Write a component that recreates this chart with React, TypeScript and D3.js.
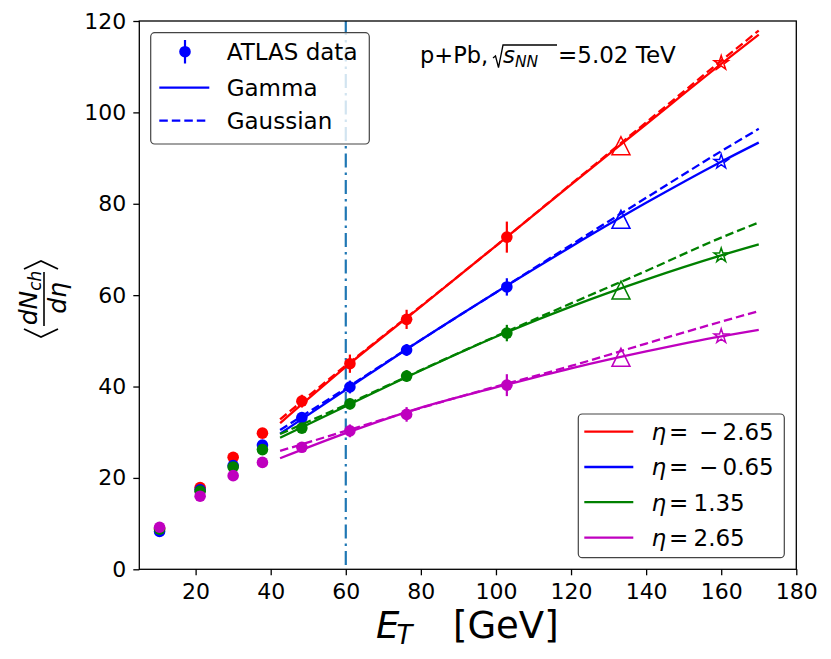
import * as d3 from "d3";
import { useEffect, useRef } from "react";

// measured E_T bins (GeV)
const etValues = [10.4, 21.2, 30.0, 37.8, 48.3, 61.1, 76.2, 102.9];

const dataEtaM265 = [8.9, 17.9, 24.5, 29.8, 36.8, 45.0, 54.7, 72.7];
const errEtaM265 = [0.4, 0.6, 0.8, 1.0, 1.4, 2.0, 2.1, 3.4];
const dataEtaM065 = [8.3, 17.4, 22.7, 27.2, 33.2, 39.9, 48.0, 61.8];
const errEtaM065 = [0.3, 0.5, 0.7, 0.9, 1.1, 1.4, 1.3, 1.9];
const dataEta135 = [8.8, 17.1, 22.4, 26.2, 30.9, 36.2, 42.3, 51.7];
const errEta135 = [0.3, 0.5, 0.7, 0.8, 1.0, 1.2, 1.3, 1.8];
const dataEta265 = [9.2, 16.0, 20.5, 23.4, 26.7, 30.3, 33.9, 40.3];
const errEta265 = [0.3, 0.5, 0.6, 0.7, 0.9, 1.4, 1.6, 2.4];

// model curves
const fitEt = [42.5, 60, 80, 100, 120, 140, 160, 170];
const gammaEtaM265 = [32.0, 44.3, 57.5, 70.8, 84.2, 97.4, 110.6, 117.0];
const gaussEtaM265 = [32.8, 44.6, 57.6, 70.8, 84.3, 97.8, 111.3, 117.9];
const gammaEtaM065 = [29.7, 39.3, 50.2, 60.6, 70.6, 80.2, 89.2, 93.4];
const gaussEtaM065 = [30.5, 39.6, 50.2, 60.6, 71.0, 81.3, 91.5, 96.4];
const gammaEta135 = [28.8, 35.7, 43.5, 50.9, 57.5, 63.4, 68.7, 71.1];
const gaussEta135 = [29.6, 36.0, 43.6, 51.0, 58.2, 65.3, 72.6, 75.9];
const gammaEta265 = [24.3, 29.8, 35.4, 39.8, 44.0, 47.7, 51.0, 52.4];
const gaussEta265 = [25.9, 30.3, 35.3, 40.0, 44.5, 49.4, 54.2, 56.5];

// predictions at higher E_T
const triangleEt = 133.3;
const triangleVals = [92.7, 76.6, 61.1, 46.4];
const starEt = 160;
const starVals = [110.8, 89.2, 68.7, 51.0];

const etaLabels = ["−2.65", "−0.65", "1.35", "2.65"];
const colors = ["#ff0000", "#0000ff", "#008000", "#bf00bf"];
const xTicks = [20, 40, 60, 80, 100, 120, 140, 160, 180];
const yTicks = [0, 20, 40, 60, 80, 100, 120];

const series = [
  { data: dataEtaM265, err: errEtaM265, gamma: gammaEtaM265, gauss: gaussEtaM265 },
  { data: dataEtaM065, err: errEtaM065, gamma: gammaEtaM065, gauss: gaussEtaM065 },
  { data: dataEta135, err: errEta135, gamma: gammaEta135, gauss: gaussEta135 },
  { data: dataEta265, err: errEta265, gamma: gammaEta265, gauss: gaussEta265 },
];

const FONT = "DejaVu Sans, sans-serif";

function starPath(R: number) {
  const r = R * 0.381966;
  const pts: string[] = [];
  for (let i = 0; i < 10; i++) {
    const a = (Math.PI / 5) * i - Math.PI / 2;
    const rr = i % 2 === 0 ? R : r;
    pts.push(`${(rr * Math.cos(a)).toFixed(2)},${(rr * Math.sin(a)).toFixed(2)}`);
  }
  return "M" + pts.join("L") + "Z";
}

const App = () => {
  const ref = useRef<SVGSVGElement | null>(null);

  useEffect(() => {
    const svg = d3.select(ref.current);
    svg.selectAll("*").remove();

    const width = 831;
    const height = 659;
    svg.attr("width", width).attr("height", height);

    const left = 139.3;
    const right = 796.3;
    const top = 21;
    const bottom = 569.3;

    const x = d3.scaleLinear().domain([5, 180]).range([left, right]);
    const y = d3.scaleLinear().domain([0, 120]).range([bottom, top]);

    svg.append("rect").attr("width", width).attr("height", height).attr("fill", "white");

    // vertical reference line at 60 GeV
    svg
      .append("line")
      .attr("x1", x(60))
      .attr("x2", x(60))
      .attr("y1", top)
      .attr("y2", bottom)
      .attr("stroke", "#1f77b4")
      .attr("stroke-width", 2.2)
      .attr("stroke-dasharray", "14,5,2.5,5");

    const line = d3
      .line<number>()
      .x((_, i) => x(fitEt[i]))
      .y((d) => y(d))
      .curve(d3.curveMonotoneX);

    const plot = svg.append("g");

    series.forEach((s, k) => {
      const c = colors[k];
      plot
        .append("path")
        .attr("d", line(s.gauss))
        .attr("fill", "none")
        .attr("stroke", c)
        .attr("stroke-width", 2.3)
        .attr("stroke-dasharray", "8.5,4");
      plot
        .append("path")
        .attr("d", line(s.gamma))
        .attr("fill", "none")
        .attr("stroke", c)
        .attr("stroke-width", 2.3);

      // error bars + points
      const g = plot.append("g");
      g.selectAll("line")
        .data(s.data)
        .enter()
        .append("line")
        .attr("x1", (_, i) => x(etValues[i]))
        .attr("x2", (_, i) => x(etValues[i]))
        .attr("y1", (d, i) => y(d - s.err[i]))
        .attr("y2", (d, i) => y(d + s.err[i]))
        .attr("stroke", c)
        .attr("stroke-width", 2.2);
      g.selectAll("circle")
        .data(s.data)
        .enter()
        .append("circle")
        .attr("cx", (_, i) => x(etValues[i]))
        .attr("cy", (d) => y(d))
        .attr("r", 5.8)
        .attr("fill", c);

      // hollow triangle and star
      plot
        .append("path")
        .attr("d", "M0,-9L9,9L-9,9Z")
        .attr("transform", `translate(${x(triangleEt)},${y(triangleVals[k])})`)
        .attr("fill", "none")
        .attr("stroke", c)
        .attr("stroke-width", 1.5);
      plot
        .append("path")
        .attr("d", starPath(7.5))
        .attr("transform", `translate(${x(starEt)},${y(starVals[k])})`)
        .attr("fill", "none")
        .attr("stroke", c)
        .attr("stroke-width", 1.5);
    });

    // axes
    const xAxis = svg
      .append("g")
      .attr("transform", `translate(0,${bottom})`)
      .call(d3.axisBottom(x).tickValues(xTicks).tickSize(6).tickPadding(8));
    const yAxis = svg
      .append("g")
      .attr("transform", `translate(${left},0)`)
      .call(d3.axisLeft(y).tickValues(yTicks).tickSize(6).tickPadding(7));
    [xAxis, yAxis].forEach((a) => {
      a.select(".domain").remove();
      a.selectAll("line").attr("stroke", "black").attr("stroke-width", 1.3);
      a.selectAll("text")
        .style("font-size", "22px")
        .style("font-family", FONT)
        .attr("fill", "black");
    });

    svg
      .append("rect")
      .attr("x", left)
      .attr("y", top)
      .attr("width", right - left)
      .attr("height", bottom - top)
      .attr("fill", "none")
      .attr("stroke", "black")
      .attr("stroke-width", 1.3);

    // x label
    const xl = svg
      .append("text")
      .attr("x", 376)
      .attr("y", 638)
      .style("font-family", FONT)
      .style("font-size", "37px");
    xl.append("tspan").style("font-style", "italic").text("E");
    xl.append("tspan")
      .style("font-style", "italic")
      .style("font-size", "26px")
      .attr("dy", 6)
      .attr("dx", -3)
      .text("T");
    xl.append("tspan").attr("x", 453).attr("y", 638).text("[GeV]");

    // y label: < dN_ch / d eta >
    const yl = svg
      .append("g")
      .attr("transform", "translate(44,299) rotate(-90)")
      .style("font-family", FONT);
    yl.append("line")
      .attr("x1", -27)
      .attr("x2", 27)
      .attr("y1", 0)
      .attr("y2", 0)
      .attr("stroke", "black")
      .attr("stroke-width", 1.6);
    const num = yl
      .append("text")
      .attr("x", 1)
      .attr("y", -7)
      .attr("text-anchor", "middle")
      .style("font-size", "25px")
      .style("font-style", "italic");
    num.append("tspan").text("dN");
    num.append("tspan").style("font-size", "17px").attr("dy", 4).text("ch");
    yl.append("text")
      .attr("x", 1)
      .attr("y", 22)
      .attr("text-anchor", "middle")
      .style("font-size", "25px")
      .style("font-style", "italic")
      .text("dη");
    yl.append("path")
      .attr("d", "M-30,-20L-38,-3L-30,14")
      .attr("fill", "none")
      .attr("stroke", "black")
      .attr("stroke-width", 1.8);
    yl.append("path")
      .attr("d", "M30,-20L38,-3L30,14")
      .attr("fill", "none")
      .attr("stroke", "black")
      .attr("stroke-width", 1.8);

    // annotation
    const ann = svg.append("g").style("font-family", FONT).style("font-size", "23px");
    ann.append("text").attr("x", 420).attr("y", 63).style("font-size", "22.5px").text("p+Pb,");
    ann.append("path")
      .attr("d", "M493,58L495.5,56L498.5,67.5L503,45H557")
      .attr("fill", "none")
      .attr("stroke", "black")
      .attr("stroke-width", 1.3);
    const sv = ann.append("text").attr("x", 503).attr("y", 63).style("font-style", "italic");
    sv.append("tspan").text("s");
    sv.append("tspan").style("font-size", "15.5px").attr("dy", 4).text("NN");
    ann.append("text").attr("x", 558).attr("y", 63).text("=5.02 TeV");

    // legend 1
    const l1 = svg.append("g").style("font-family", FONT).style("font-size", "23px");
    l1.append("rect")
      .attr("x", 150.7)
      .attr("y", 32.7)
      .attr("width", 218.6)
      .attr("height", 111.3)
      .attr("rx", 4)
      .attr("fill", "white")
      .attr("fill-opacity", 0.8)
      .attr("stroke", "#444")
      .attr("stroke-width", 1.2);
    l1.append("line")
      .attr("x1", 185).attr("x2", 185).attr("y1", 40).attr("y2", 63.5)
      .attr("stroke", "#0000ff").attr("stroke-width", 2.2);
    l1.append("circle").attr("cx", 185).attr("cy", 51.7).attr("r", 5.8).attr("fill", "#0000ff");
    l1.append("line")
      .attr("x1", 159.3).attr("x2", 209.3).attr("y1", 87.7).attr("y2", 87.7)
      .attr("stroke", "#0000ff").attr("stroke-width", 2.3);
    l1.append("line")
      .attr("x1", 159.3).attr("x2", 209.3).attr("y1", 120.7).attr("y2", 120.7)
      .attr("stroke", "#0000ff").attr("stroke-width", 2.3).attr("stroke-dasharray", "8.5,4");
    l1.append("text").attr("x", 226.7).attr("y", 59.8).text("ATLAS data");
    l1.append("text").attr("x", 226.7).attr("y", 95.8).text("Gamma");
    l1.append("text").attr("x", 226.7).attr("y", 128.8).text("Gaussian");

    // legend 2
    const l2 = svg.append("g").style("font-family", FONT).style("font-size", "23px");
    l2.append("rect")
      .attr("x", 578.3)
      .attr("y", 414)
      .attr("width", 206)
      .attr("height", 143.7)
      .attr("rx", 4)
      .attr("fill", "white")
      .attr("fill-opacity", 0.8)
      .attr("stroke", "#444")
      .attr("stroke-width", 1.2);
    const rowY = [431.7, 467, 502.2, 537.7];
    etaLabels.forEach((lab, k) => {
      l2.append("line")
        .attr("x1", 584.3).attr("x2", 633.3).attr("y1", rowY[k]).attr("y2", rowY[k])
        .attr("stroke", colors[k]).attr("stroke-width", 2.3);
      const t = l2.append("text").attr("x", 651.5).attr("y", rowY[k] + 8.3);
      t.append("tspan").style("font-style", "italic").text("η");
      t.append("tspan").attr("x", 669).text("=");
      if (lab.startsWith("−")) {
        t.append("tspan").attr("x", 699).text("−");
        t.append("tspan").attr("x", 722.5).text(lab.slice(1));
      } else {
        t.append("tspan").attr("x", 693.5).text(lab);
      }
    });
  }, []);

  return (
    <svg
      ref={ref}
      style={{ position: "absolute", left: 0, top: 0, display: "block" }}
    ></svg>
  );
};

export default App;
